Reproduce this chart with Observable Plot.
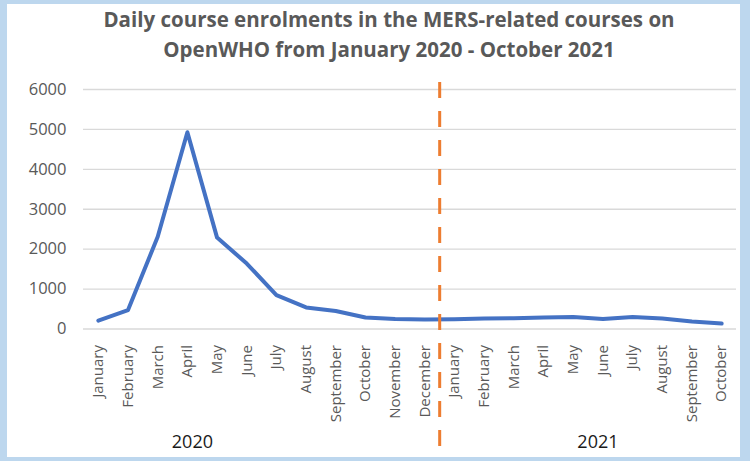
<!DOCTYPE html>
<html>
<head>
<meta charset="utf-8">
<script src="https://cdn.jsdelivr.net/npm/d3@7"></script>
<script src="https://cdn.jsdelivr.net/npm/@observablehq/plot@0.6"></script>
<style>
  html, body { margin: 0; padding: 0; }
  body { width: 750px; height: 461px; background: #bdd7ee; position: relative; overflow: hidden; font-family: "Open Sans", sans-serif; }
  #frame { position: absolute; left: 7px; top: 4px; width: 733px; height: 453px; background: #ffffff; }
  #title { position: absolute; left: 0; top: 4px; width: 778px; text-align: center; color: #595959; font-weight: 700; font-size: 20.5px; line-height: 30px; white-space: nowrap; }
  #chart { position: absolute; left: 0; top: 78px; }
</style>
</head>
<body>
<div id="frame"></div>
<div id="title">
  <div>Daily course enrolments in the MERS-related courses on</div>
  <div>OpenWHO from January 2020 - October 2021</div>
</div>
<div id="chart"></div>
<script>
const months = ["January","February","March","April","May","June","July","August","September","October","November","December",
                "January","February","March","April","May","June","July","August","September","October"];
const enrolments = [210, 475, 2310, 4930, 2290, 1640, 850, 540, 450, 290, 250, 235,
                    245, 260, 270, 285, 300, 250, 300, 265, 190, 135];
const years = ["2020", "2021"];
const yearAnchorMonth = [3, 17];   // month index under which each year label sits
const yTicks = [0, 1000, 2000, 3000, 4000, 5000, 6000];
const yearBoundary = 11.5;         // between December 2020 and January 2021

const data = months.map((m, i) => ({i, month: m, value: enrolments[i]}));
const idx = months.map((_, i) => i);

const yearText = (k, dx) => Plot.text([{label: years[k], i: yearAnchorMonth[k]}], {
  x: "i", text: "label", frameAnchor: "bottom", lineAnchor: "middle",
  dy: 113.5, dx, fontSize: 18, fill: "#1a1a1a"
});

const chart = Plot.plot({
  width: 750,
  height: 383,
  marginLeft: 83,
  marginRight: 14,
  marginTop: 11,
  marginBottom: 132.5,
  style: {fontFamily: "Open Sans, sans-serif", background: "transparent", overflow: "visible"},
  x: {type: "linear", domain: [-0.5, months.length - 0.5], axis: null},
  y: {domain: [0, 6000], axis: null},
  marks: [
    Plot.gridY(yTicks, {stroke: "#d9d9d9", strokeOpacity: 1, strokeWidth: 1.3}),
    Plot.axisY(yTicks, {tickSize: 0, tickPadding: 17, fontSize: 16.5, fill: "#595959", label: null, tickFormat: d => String(d)}),
    Plot.axisX(idx, {tickSize: 0, tickPadding: 16, tickRotate: -90, fontSize: 15, fill: "#595959", label: null, tickFormat: i => months[i]}),
    Plot.line(data, {x: "i", y: "value", stroke: "#4472c4", strokeWidth: 4, strokeLinejoin: "round", strokeLinecap: "round"}),
    Plot.ruleX([yearBoundary], {stroke: "#ed7d31", strokeWidth: 3, strokeDasharray: "16,13", insetTop: -7, insetBottom: -126}),
    yearText(0, 5),
    yearText(1, -5)
  ]
});
document.getElementById("chart").appendChild(chart);
</script>
</body>
</html>
